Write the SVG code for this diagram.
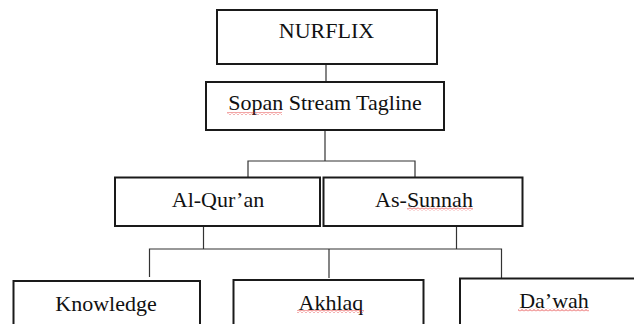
<svg xmlns="http://www.w3.org/2000/svg" width="634" height="324" viewBox="0 0 634 324">
  <defs>
    <pattern id="squiggle" patternUnits="userSpaceOnUse" width="4" height="3">
      <path d="M0 2.5 L2 0.5 L4 2.5" fill="none" stroke="#e02020" stroke-width="0.8"/>
    </pattern>
  </defs>
  <style>
    .box { fill: #ffffff; stroke: #1a1a1a; stroke-width: 2; }
    .lbl { font-family: "Liberation Serif", "Times New Roman", serif; font-size: 22px; fill: #111111; text-anchor: middle; }
    .conn { fill: none; stroke: #333333; stroke-width: 1.2; }
    .sq { fill: url(#squiggle); }
  </style>
  <rect width="634" height="324" fill="#ffffff"/>

  <g id="connectors">
    <path class="conn" d="M326 64 V82"/>
    <path class="conn" d="M325 130 V161"/>
    <path class="conn" d="M248 177 V161 H415 V177"/>
    <path class="conn" d="M203.5 226 V249"/>
    <path class="conn" d="M456.5 226 V249"/>
    <path class="conn" d="M149.5 277 V249 H501.5 V278"/>
    <path class="conn" d="M329 249 V278"/>
  </g>

  <g id="nurflix">
    <rect class="box" x="217" y="10" width="220" height="54"/>
    <text class="lbl" x="326.5" y="37.5">NURFLIX</text>
  </g>
  <g id="sopan">
    <rect class="box" x="206" y="82" width="238" height="48"/>
    <text class="lbl" x="325" y="110">Sopan Stream Tagline</text>
  </g>
  <g id="alquran">
    <rect class="box" x="115" y="177.5" width="205" height="48.5"/>
    <text class="lbl" x="218" y="206.5">Al-Qur’an</text>
  </g>
  <g id="assunnah">
    <rect class="box" x="323.5" y="177.5" width="199" height="48.5"/>
    <text class="lbl" x="424" y="206.5">As-Sunnah</text>
  </g>
  <g id="knowledge">
    <rect class="box" x="13.5" y="281" width="186.5" height="60"/>
    <text class="lbl" x="106" y="310.5">Knowledge</text>
  </g>
  <g id="akhlaq">
    <rect class="box" x="233.5" y="280" width="190" height="60"/>
    <text class="lbl" x="331" y="310">Akhlaq</text>
  </g>
  <g id="dawah">
    <rect class="box" x="460" y="278.5" width="190" height="60"/>
    <text class="lbl" x="554" y="308">Da’wah</text>
  </g>

  <g id="spellcheck">
    <rect class="sq" x="227" y="112" width="55" height="3"/>
    <rect class="sq" x="407" y="207.5" width="66" height="3"/>
    <rect class="sq" x="297" y="310" width="67" height="3"/>
    <rect class="sq" x="518" y="308.5" width="71" height="3"/>
  </g>
</svg>
